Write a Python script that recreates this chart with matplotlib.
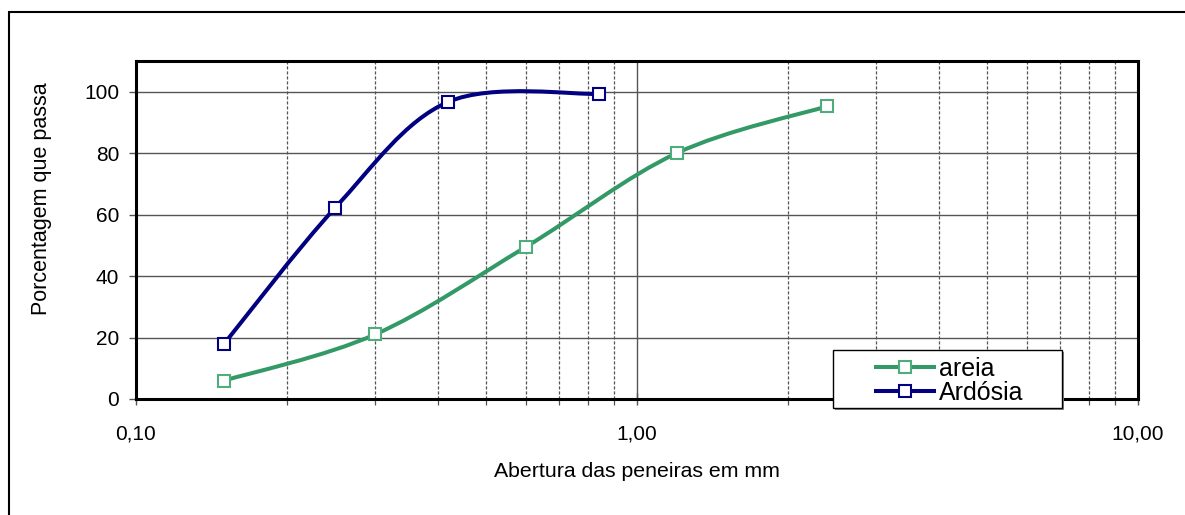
import numpy as np
import matplotlib
matplotlib.use("Agg")
import matplotlib.pyplot as plt
from matplotlib.path import Path
from matplotlib.patches import PathPatch, Rectangle
from matplotlib.lines import Line2D
from matplotlib.ticker import FixedLocator, FixedFormatter, NullFormatter

plt.rcParams['font.family'] = ['Liberation Sans', 'DejaVu Sans']

# ---- data ----
areia_x = [0.15, 0.30, 0.60, 1.20, 2.40]
areia_y = [6.0, 21.0, 49.5, 80.0, 95.3]
ardosia_x = [0.15, 0.25, 0.42, 0.84]
ardosia_y = [18.0, 62.3, 96.7, 99.3]
series_names = ["areia", "Ardósia"]
xtick_vals = [0.1, 1.0, 10.0]
xtick_labels = ["0,10", "1,00", "10,00"]
ytick_vals = [0, 20, 40, 60, 80, 100]

GREEN = "#339966"
GREEN_MK = "#4dae7c"
NAVY = "#000080"

W, H = 1185, 515
fig = plt.figure(figsize=(W / 100, H / 100), dpi=100)
ax = fig.add_axes([136 / W, 1 - 399 / H, (1138 - 136) / W, (399 - 61) / H])

def smooth_path(xs, ys):
    # Excel-style smoothed line: cubic Bezier (Catmull-Rom, 1/6) in log-x space
    lx = np.log10(np.asarray(xs, float))
    y = np.asarray(ys, float)
    P = np.column_stack([lx, y])
    n = len(P)
    verts = [P[0]]
    codes = [Path.MOVETO]
    for i in range(n - 1):
        p0 = P[i - 1] if i > 0 else P[i]
        p1 = P[i]
        p2 = P[i + 1]
        p3 = P[i + 2] if i + 2 < n else P[i + 1]
        c1 = p1 + (p2 - p0) / 6.0
        c2 = p2 - (p3 - p1) / 6.0
        verts += [c1, c2, p2]
        codes += [Path.CURVE4] * 3
    V = np.array(verts)
    V[:, 0] = 10 ** V[:, 0]
    return Path(V, codes)

MS = 9.0
for xs, ys, col, mk in [(areia_x, areia_y, GREEN, GREEN_MK),
                        (ardosia_x, ardosia_y, NAVY, NAVY)]:
    patch = PathPatch(smooth_path(xs, ys), facecolor="none", edgecolor=col,
                      lw=2.9, transform=ax.transData, zorder=3,
                      capstyle="round", joinstyle="round")
    ax.add_patch(patch)
    ax.plot(xs, ys, ls="none", marker="s", ms=MS, mfc="white", mec=mk,
            mew=1.5, zorder=4)

ax.set_xscale("log")
ax.set_xlim(0.1, 10)
ax.set_ylim(0, 110)

ax.xaxis.set_major_locator(FixedLocator(xtick_vals))
ax.xaxis.set_major_formatter(FixedFormatter(xtick_labels))
ax.xaxis.set_minor_locator(FixedLocator([k * d for d in (0.1, 1.0) for k in range(2, 10)]))
ax.xaxis.set_minor_formatter(NullFormatter())
ax.set_yticks(ytick_vals)
ax.set_yticklabels([str(v) for v in ytick_vals])

ax.grid(True, which="major", axis="y", color="#555555", lw=1.0, ls="-")
ax.grid(True, which="major", axis="x", color="#555555", lw=1.0, ls="-")
ax.grid(True, which="minor", axis="x", color="#555555", lw=0.9, ls=(0, (2.5, 1.5)))
ax.set_axisbelow(True)

for s in ax.spines.values():
    s.set_linewidth(2.2)
    s.set_color("black")

ax.tick_params(axis="y", which="major", direction="out", length=5, width=1, color="#555555",
               labelsize=15, pad=7)
ax.tick_params(axis="x", which="major", direction="inout", length=8, width=1, color="#555555",
               labelsize=15, pad=14)
ax.tick_params(axis="x", which="minor", direction="out", length=4, width=0.9, color="#555555")

ax.set_xlabel("Abertura das peneiras em mm", fontsize=15.3, labelpad=14)
ax.set_ylabel("Porcentagem que passa", fontsize=15.5)
ax.yaxis.set_label_coords((52 - 136) / 1002, (399 - 199) / 338)

# legend frame drawn explicitly (shadow + box), legend entries inside
fig.patches.append(Rectangle((835 / W, 1 - 410 / H), (1062 - 833) / W, (408 - 350) / H,
                             transform=fig.transFigure, facecolor="#888888",
                             edgecolor="none", zorder=3))
fig.patches.append(Rectangle((833 / W, 1 - 408 / H), (1062 - 833) / W, (408 - 350) / H,
                             transform=fig.transFigure, facecolor="white",
                             edgecolor="black", lw=1.0, zorder=4))
handles = [Line2D([], [], color=GREEN, lw=2.9, marker="s", ms=MS, mfc="white", mec=GREEN_MK, mew=1.5),
           Line2D([], [], color=NAVY, lw=2.9, marker="s", ms=MS, mfc="white", mec=NAVY, mew=1.5)]
leg = fig.legend(handles, series_names, loc="center left",
                 bbox_to_anchor=(876 / W, 1 - 381 / H), borderaxespad=0,
                 fontsize=18, frameon=False, borderpad=0,
                 handlelength=2.3, handletextpad=0.2, labelspacing=0.0)
leg.set_zorder(5)

# outer frame of the chart area
fig.patches.append(Rectangle((9 / W, -0.1), 1.2, 1 - 12 / H + 0.1, transform=fig.transFigure,
                             fill=False, edgecolor="black", lw=1.5))

fig.savefig("out.png", dpi=100)
